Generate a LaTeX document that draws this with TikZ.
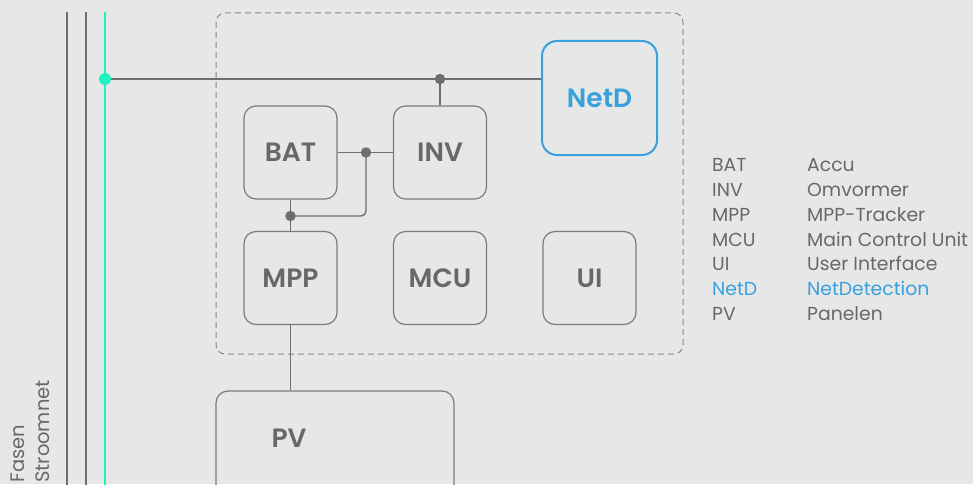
\documentclass[tikz,border=0pt]{standalone}
\usepackage{fontspec}
\setmainfont{Poppins}[BoldFont={Poppins SemiBold}]
\definecolor{bg}{HTML}{E6E7E7}
\definecolor{ln}{HTML}{6D6E71}
\definecolor{bx}{HTML}{7A7B7E}
\definecolor{tx}{HTML}{67686B}
\definecolor{grn}{HTML}{1EF2C0}
\definecolor{blu}{HTML}{3AA0DB}
\begin{document}
\begin{tikzpicture}[x=1pt,y=-1pt,
  box/.style={draw=bx, line width=1.2pt, rounded corners=12pt, minimum width=93pt, minimum height=93pt, inner sep=0pt, text=tx, font=\fontsize{26.5}{30}\selectfont\bfseries},
  conn/.style={draw=ln, line width=1.4pt},
  rail/.style={draw=ln, line width=1.4pt},
  dot/.style={circle, fill=ln, inner sep=0pt, minimum size=10.5pt},
  leg/.style={anchor=base west, text=tx, font=\fontsize{18.8}{20}\selectfont, inner sep=0pt},
  side/.style={anchor=base west, rotate=90, text=tx, font=\fontsize{19.5}{22}\selectfont, inner sep=0pt}]
\fill[bg] (0,0) rectangle (973,484);
\useasboundingbox (0,0) rectangle (973,484);
\clip (0,0) rectangle (973,484);
% rails
\draw[rail] (67,12) -- (67,490);
\draw[rail] (86,12) -- (86,490);
\draw[draw=grn, line width=1.6pt] (105,12) -- (105,490);
\node[side] (fasen) at (24,483) {Fasen};
\node[side] (stroom) at (49,483) {Stroomnet};
% container
\draw[draw=bx!90, line width=1pt, dash pattern=on 6pt off 4pt, rounded corners=9pt] (216,13) rectangle (683,354);
% boxes
\node[box] (bat) at (290.5,152.5) {BAT};
\node[box] (inv) at (440,152.5) {INV};
\node[box] (mpp) at (290.5,278) {MPP};
\node[box] (mcu) at (440,278) {MCU};
\node[box] (ui) at (589.5,278) {UI};
\node[box, draw=blu, line width=2pt, text=blu, minimum width=115pt, minimum height=114pt, rounded corners=15pt] (netd) at (599.5,98) {NetD};
\node[box, minimum width=238pt, minimum height=120pt] (pv) at (335,451) {};
\node[text=tx, font=\fontsize{26.5}{30}\selectfont\bfseries, inner sep=0pt] (pvl) at (289,438) {PV};
% connectors
\node[circle, fill=grn, inner sep=0pt, minimum size=12pt] (g) at (105,79) {};
\draw[conn] (g) -- (g -| netd.west);
\node[dot] (jt) at (inv.north |- g) {};
\draw[conn] (jt) -- (inv.north);
\node[dot] (jb) at (366,152.5) {};
\draw[conn] (bat.east |- jb) -- (jb) -- (inv.west |- jb);
\node[dot] (jm) at (bat.south |- 0,216) {};
\draw[conn, rounded corners=5pt] (jb.center) -- (jb |- jm) -- (jm.center);
\draw[conn] (bat.south) -- (mpp.north);
\draw[conn] (mpp.south) -- (pv.north -| mpp.south);
% legend
\node[leg] (l1) at (712,171.7) {BAT};
\node[leg] (l2) at (712,196.5) {INV};
\node[leg] (l3) at (712,221.3) {MPP};
\node[leg] (l4) at (712,246.1) {MCU};
\node[leg] (l5) at (712,270.9) {UI};
\node[leg, text=blu] (l6) at (712,295.7) {NetD};
\node[leg] (l7) at (712,320.5) {PV};
\node[leg] (r1) at (807,171.7) {Accu};
\node[leg] (r2) at (807,196.5) {Omvormer};
\node[leg] (r3) at (807,221.3) {MPP-Tracker};
\node[leg] (r4) at (807,246.1) {Main Control Unit};
\node[leg] (r5) at (807,270.9) {User Interface};
\node[leg, text=blu] (r6) at (807,295.7) {NetDetection};
\node[leg] (r7) at (807,320.5) {Panelen};
\end{tikzpicture}
\end{document}
